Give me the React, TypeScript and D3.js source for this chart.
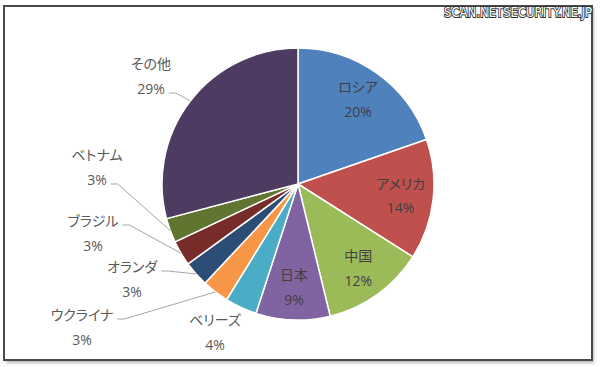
import { useEffect, useRef } from 'react'
import * as d3 from 'd3'

// ─── Data ─────────────────────────────────────────────────────────────────────

const countries = ['ロシア', 'アメリカ', '中国', '日本', 'ベリーズ', 'ウクライナ', 'オランダ', 'ブラジル', 'ベトナム', 'その他']
const shares = [19.7, 14.3, 12.2, 8.8, 3.8, 3.2, 3.0, 3.0, 2.9, 29.1]
const colors = ['#4F81BD', '#C0504D', '#9BBB59', '#8064A2', '#4BACC6', '#F79646', '#2C4D75', '#772C2A', '#5F7530', '#4D3B62']

// outside label placement (offset of label centre from pie centre), leader row
const outsideLabels: Record<number, { dx: number; dy: number; row: number | null }> = {
  4: { dx: -83, dy: 136, row: null },
  5: { dx: -216, dy: 131, row: 0 },
  6: { dx: -166, dy: 83, row: 0 },
  7: { dx: -205, dy: 37, row: 0 },
  8: { dx: -201, dy: -29, row: 1 },
  9: { dx: -147, dy: -120, row: 1 },
}

// ─── Constants ────────────────────────────────────────────────────────────────

const W = 600
const H = 367
const CX = 298
const CY = 184
const R = 136
const LINE_GAP = 25
const FONT = '"Open Sans", "Noto Sans CJK JP", sans-serif'

export default function App() {
  const svgRef = useRef<SVGSVGElement>(null)

  useEffect(() => {
    if (!svgRef.current) return
    const svg = d3.select(svgRef.current)
    svg.selectAll('*').remove()

    // frame + shadow
    const defs = svg.append('defs')
    defs.append('filter').attr('id', 'shadow')
      .append('feGaussianBlur').attr('stdDeviation', 1.5)
    svg.append('rect')
      .attr('x', 6).attr('y', 8).attr('width', 588).attr('height', 355)
      .attr('fill', '#b5b5b5').attr('filter', 'url(#shadow)')
    svg.append('rect')
      .attr('x', 4).attr('y', 6).attr('width', 588).attr('height', 354)
      .attr('fill', '#fff').attr('stroke', '#4a4a4a').attr('stroke-width', 2)

    const g = svg.append('g').attr('transform', `translate(${CX},${CY})`)

    const pie = d3.pie<number>().sort(null).value((d) => d)
    const arcs = pie(shares)
    const arc = d3.arc<d3.PieArcDatum<number>>().innerRadius(0).outerRadius(R)
    const labelArc = d3.arc<d3.PieArcDatum<number>>().innerRadius(R * 0.76).outerRadius(R * 0.76)
    const edgeArc = d3.arc<d3.PieArcDatum<number>>().innerRadius(R).outerRadius(R)

    g.selectAll('path.slice').data(arcs).join('path')
      .attr('class', 'slice')
      .attr('d', arc)
      .attr('fill', (_, i) => colors[i])
      .attr('stroke', '#fff')
      .attr('stroke-width', 1.5)

    const addLabel = (x: number, y: number, i: number, color: string) => {
      const lines = [countries[i], `${Math.round(shares[i])}%`]
      return lines.map((txt, k) =>
        g.append('text')
          .attr('x', x).attr('y', y + k * LINE_GAP + 5)
          .attr('text-anchor', 'middle')
          .attr('font-family', FONT)
          .attr('font-size', 14)
          .style('font-feature-settings', '"palt"')
          .attr('fill', color)
          .text(txt),
      )
    }

    arcs.forEach((a, i) => {
      const out = outsideLabels[i]
      if (!out) {
        const [x, y] = labelArc.centroid(a)
        addLabel(x, y - LINE_GAP / 2, i, '#404040')
        return
      }
      const texts = addLabel(out.dx, out.dy, i, '#595959')
      if (out.row === null) return
      const tw = (texts[out.row].node() as SVGTextElement).getComputedTextLength()
      const sx = out.dx + tw / 2 + 4
      const sy = out.dy + out.row * LINE_GAP + 4
      const [ex, ey] = edgeArc.centroid(a)
      g.append('polyline')
        .attr('points', `${sx},${sy} ${sx + 7},${sy} ${ex},${ey}`)
        .attr('fill', 'none')
        .attr('stroke', '#a6a6a6')
        .attr('stroke-width', 1)
    })

    // watermark
    svg.append('text')
      .attr('x', 592).attr('y', 17)
      .attr('text-anchor', 'end')
      .attr('font-family', '"DejaVu Sans", sans-serif')
      .attr('font-size', 14)
      .attr('textLength', 148)
      .attr('lengthAdjust', 'spacingAndGlyphs')
      .attr('fill', '#fff')
      .attr('stroke', '#333')
      .attr('stroke-width', 2)
      .attr('paint-order', 'stroke')
      .text('SCAN.NETSECURITY.NE.JP')
  }, [])

  return (
    <svg
      ref={svgRef}
      width={W}
      height={H}
      style={{ position: 'absolute', left: 0, top: 0, background: '#fff' }}
    />
  )
}
